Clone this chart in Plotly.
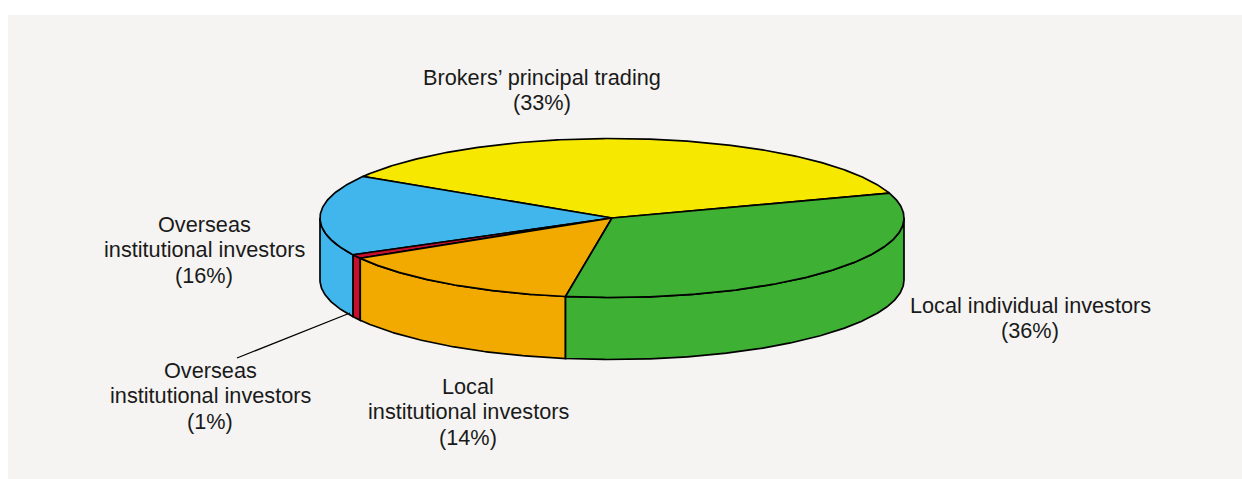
import numpy as np
import plotly.graph_objects as go

# Slices, listed counter-clockwise as drawn
names = ["Brokers’ principal trading", "Overseas institutional investors",
         "Overseas institutional investors (small)", "Local institutional investors",
         "Local individual investors"]
drawn_share = [36.2, 16.4, 0.8, 14.0, 32.6]   # share of the circle as drawn
colors = ["#F7E800", "#41B6EC", "#C8102E", "#F2A900", "#3EB034"]
start_angle = 18.2

label_lines = [
    ["Brokers’ principal trading", "(33%)"],
    ["Overseas", "institutional investors", "(16%)"],
    ["Overseas", "institutional investors", "(1%)"],
    ["Local", "institutional investors", "(14%)"],
    ["Local individual investors", "(36%)"],
]
label_x = [542, 204, 210, 468, 1030]
label_y = [77, 224, 370, 386, 305]

CX, CY, RX, RY, DEPTH = 612, 218, 292, 79.5, 62
LINE = dict(color="#000000", width=1.7)


def arc(a0, a1, dy=0.0):
    t = np.radians(np.linspace(a0, a1, max(int(abs(a1 - a0)), 2) * 2))
    return CX + RX * np.cos(t), CY - RY * np.sin(t) + dy


edges = start_angle + np.concatenate([[0], np.cumsum(drawn_share)]) * 3.6
fig = go.Figure()

# Side walls: only the part of each slice on the near half of the ellipse
for i, c in enumerate(colors):
    a0, a1 = max(edges[i], 180), min(edges[i + 1], 360)
    if a1 <= a0:
        continue
    x1, y1 = arc(a0, a1)
    x2, y2 = arc(a1, a0, DEPTH)
    fig.add_trace(go.Scatter(x=np.r_[x1, x2, x1[0]], y=np.r_[y1, y2, y1[0]], mode="lines",
                             fill="toself", fillcolor=c, line=LINE, hoverinfo="skip"))

# Top faces
for i, c in enumerate(colors):
    x, y = arc(edges[i], edges[i + 1])
    fig.add_trace(go.Scatter(x=np.r_[CX, x, CX], y=np.r_[CY, y, CY], mode="lines",
                             fill="toself", fillcolor=c, line=LINE, hoverinfo="skip"))

annotations = []
for lines, lx, ly in zip(label_lines, label_x, label_y):
    for j, s in enumerate(lines):
        annotations.append(dict(x=lx, y=ly + j * 25.7, text=s, showarrow=False,
                                xanchor="center", yanchor="middle", xref="x", yref="y",
                                font=dict(family="Liberation Sans", size=21.7, color="#1a1a1a")))

fig.update_layout(
    width=1242, height=479, margin=dict(l=0, r=0, t=0, b=0), showlegend=False,
    paper_bgcolor="#ffffff", plot_bgcolor="#ffffff",
    xaxis=dict(range=[0, 1242], visible=False, fixedrange=True),
    yaxis=dict(range=[479, 0], visible=False, fixedrange=True),
    annotations=annotations,
    shapes=[
        dict(type="rect", x0=8, x1=1242, y0=15, y1=479, xref="x", yref="y", layer="below",
             fillcolor="#F5F4F2", line=dict(width=0)),
        dict(type="line", x0=237, y0=358, x1=350, y1=313, xref="x", yref="y",
             line=dict(color="#000000", width=1.2)),
    ],
)
fig.write_html("out.html", config=dict(displayModeBar=False),
               post_script="document.body.style.margin='0';document.body.style.overflow='hidden';")
